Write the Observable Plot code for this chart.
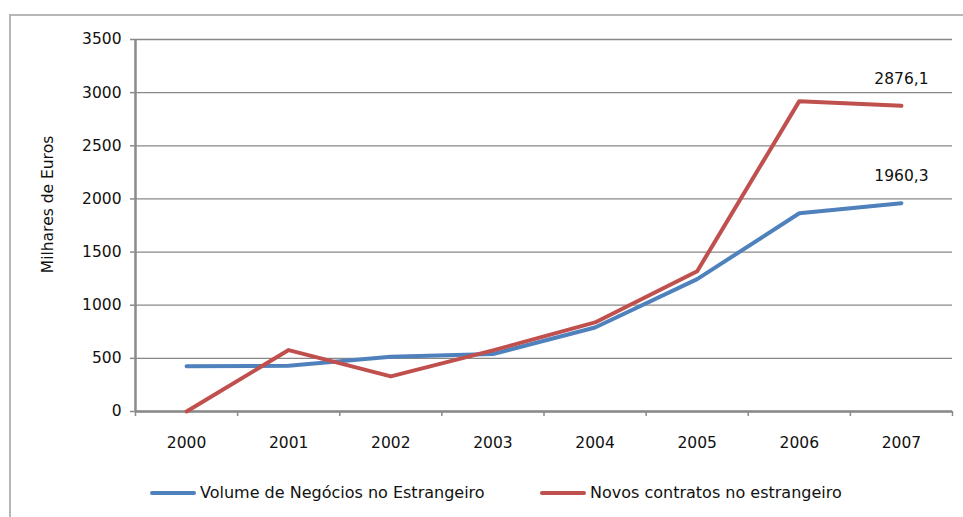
<!DOCTYPE html>
<html>
<head>
<meta charset="utf-8">
<script src="https://cdn.jsdelivr.net/npm/d3@7"></script>
<script src="https://cdn.jsdelivr.net/npm/@observablehq/plot@0.6"></script>
<style>
  html, body { margin: 0; padding: 0; background: #fff; overflow: hidden; }
  body { width: 963px; height: 517px; position: relative; font-family: "DejaVu Sans", sans-serif; }
  #frame { position: absolute; left: 9px; top: 14px; width: 1000px; height: 600px; border: 2px solid #b7b7b7; box-sizing: border-box; }
  #chart { position: absolute; left: 0; top: 0; }
  #legend { position: absolute; left: 0; top: 470px; width: 963px; height: 47px; font-size: 16px; color: #111; }
  .item { position: absolute; top: 13px; display: flex; align-items: center; white-space: nowrap; }
  .sw { display: inline-block; width: 46px; height: 4px; margin-right: 4px; border-radius: 2px; }
</style>
</head>
<body>
<div id="frame"></div>
<div id="chart"></div>
<div id="legend"></div>
<script>
const years = ["2000", "2001", "2002", "2003", "2004", "2005", "2006", "2007"];
const volumeNegocios = [425, 430, 515, 540, 790, 1245, 1865, 1960.3];
const novosContratos = [0, 578, 330, 575, 838, 1320, 2920, 2876.1];
const seriesNames = ["Volume de Negócios no Estrangeiro", "Novos contratos no estrangeiro"];
const seriesColors = ["#4F81BD", "#C0504D"];
const yTicks = [0, 500, 1000, 1500, 2000, 2500, 3000, 3500];
const yLabel = "Milhares de Euros";

const rows = [];
[volumeNegocios, novosContratos].forEach((vals, s) => {
  vals.forEach((v, i) => rows.push({series: seriesNames[s], i, year: years[i], value: v}));
});
const lastRows = rows.filter(d => d.i === years.length - 1);
const fmt = v => v.toFixed(1).replace(".", ",");

const bounds = d3.range(years.length + 1).map(i => i - 0.5);

const chart = Plot.plot({
  width: 963,
  height: 470,
  marginLeft: 135,
  marginRight: 11,
  marginTop: 39,
  marginBottom: 59,
  style: {fontFamily: "DejaVu Sans, sans-serif", fontSize: "15.5px", color: "#111", background: "transparent"},
  x: {domain: [-0.5, years.length - 0.5]},
  y: {domain: [0, 3500]},
  color: {domain: seriesNames, range: seriesColors},
  marks: [
    Plot.gridY(yTicks, {stroke: "#888888", strokeOpacity: 1, strokeWidth: 1.3}),
    Plot.axisY(yTicks, {tickSize: 5, tickPadding: 9, stroke: "#8a8a8a", strokeWidth: 1.5, label: null, tickFormat: d => String(d), fill: "#111"}),
    Plot.axisX(years.map((_, i) => i), {tickSize: 0, tickPadding: 25, label: null, tickFormat: i => years[i], fill: "#111"}),
    Plot.axisX(bounds, {tickSize: 5, stroke: "#8a8a8a", strokeWidth: 1.5, tickFormat: () => "", label: null}),
    Plot.ruleX([-0.5], {stroke: "#8a8a8a", strokeWidth: 2.5}),
    Plot.ruleY([0], {stroke: "#8a8a8a", strokeWidth: 2.5}),
    Plot.line(rows, {x: "i", y: "value", z: "series", stroke: "series", strokeWidth: 4, strokeLinejoin: "round", strokeLinecap: "round"}),
    Plot.text(lastRows, {x: "i", y: "value", text: d => fmt(d.value), dy: -27, fill: "#111", fontSize: 15.5}),
    Plot.text([yLabel], {frameAnchor: "left", textAnchor: "middle", rotate: -90, dx: -87, dy: -21, fill: "#111", fontSize: 15.5})
  ]
});
document.getElementById("chart").appendChild(chart);

const legend = document.getElementById("legend");
const lefts = [150, 540];
seriesNames.forEach((name, s) => {
  const item = document.createElement("div");
  item.className = "item";
  item.style.left = lefts[s] + "px";
  const sw = document.createElement("span");
  sw.className = "sw";
  sw.style.background = seriesColors[s];
  item.appendChild(sw);
  item.appendChild(document.createTextNode(name));
  legend.appendChild(item);
});
</script>
</body>
</html>
